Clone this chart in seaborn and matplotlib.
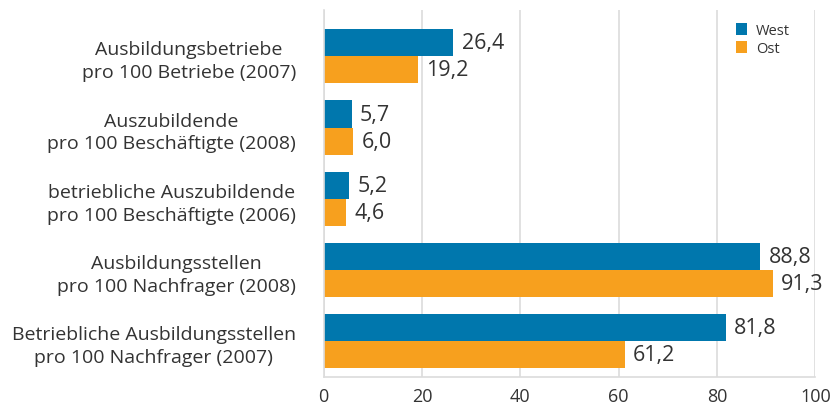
import matplotlib.pyplot as plt
import numpy as np
import pandas as pd
import seaborn as sns

categories = [
    "Ausbildungsbetriebe\npro 100 Betriebe (2007)",
    "Auszubildende\npro 100 Beschäftigte (2008)",
    "betriebliche Auszubildende\npro 100 Beschäftigte (2006)",
    "Ausbildungsstellen\npro 100 Nachfrager (2008)",
    "Betriebliche Ausbildungsstellen\npro 100 Nachfrager (2007)",
]
west = [26.4, 5.7, 5.2, 88.8, 81.8]
ost = [19.2, 6.0, 4.6, 91.3, 61.2]
series = ["West", "Ost"]
colors = ["#0077ad", "#f7a01e"]

df = pd.DataFrame({
    "Kategorie": categories * 2,
    "Wert": west + ost,
    "Region": ["West"] * len(west) + ["Ost"] * len(ost),
})

sns.set_style("white")
plt.rcParams["font.family"] = ["Open Sans", "DejaVu Sans"]
grid_c = "#dcdcdc"
text_c = "#333333"

fig = plt.figure(figsize=(8.32, 4.06), dpi=100)
ax = fig.add_axes([0.389, 0.069, 0.591, 0.904])

sns.barplot(data=df, y="Kategorie", x="Wert", hue="Region", hue_order=series,
            palette=colors, orient="h", width=0.76, saturation=1, linewidth=0,
            ax=ax)

for cont in ax.containers:
    ax.bar_label(cont, labels=[f"{v:.1f}".replace(".", ",") for v in cont.datavalues],
                 padding=6, fontsize=15.5, color=text_c)

ax.set_xlim(0, 100)
ax.set_ylim(4.5, -0.65)
ax.set_xticks(np.arange(0, 101, 20))
ax.set_yticks(range(len(categories)))
ax.set_yticklabels(categories, fontsize=14, color=text_c, multialignment="center",
                   linespacing=1.35)
ax.set_yticks(np.arange(0.5, len(categories), 1), minor=True)
ax.tick_params(axis="y", which="major", length=0, pad=20)
ax.tick_params(axis="y", which="minor", length=10, color=grid_c, width=1.2)
ax.tick_params(axis="x", length=5, pad=2, color=grid_c, width=1.2, labelsize=13,
               labelcolor=text_c)
ax.set_xlabel("")
ax.set_ylabel("")
ax.grid(axis="x", color=grid_c, linewidth=1.2)
ax.set_axisbelow(True)
for s in ["top", "right"]:
    ax.spines[s].set_visible(False)
for s in ["left", "bottom"]:
    ax.spines[s].set_color(grid_c)
    ax.spines[s].set_linewidth(1.2)

ax.legend(loc="upper right", bbox_to_anchor=(0.975, 1.0), frameon=False, fontsize=10.5,
          handlelength=0.8, handleheight=0.8, handletextpad=0.6, labelspacing=0.2,
          labelcolor=text_c)

fig.savefig("out.png", dpi=100)
